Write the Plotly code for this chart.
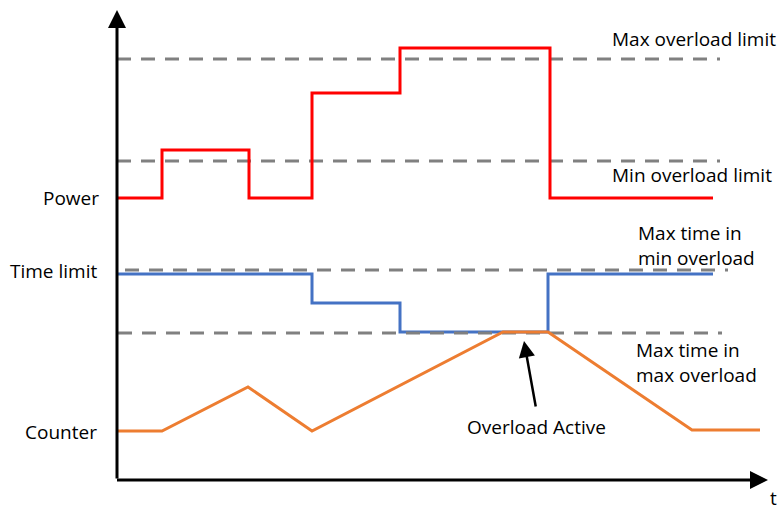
import plotly.graph_objects as go

# ---- data (time units along t, signal level units upward) ----
power_t = [0, 45, 132, 195, 283, 433, 596]
power_v = [282, 330, 282, 387, 432, 282, 282]

timelimit_t = [0, 195, 283, 431, 596]
timelimit_v = [206, 177, 148, 206, 206]

counter_t = [0, 45, 131, 195, 386, 431, 575, 643]
counter_v = [49, 49, 93, 49, 148, 148, 50, 50]

max_overload_t = [0, 603]
max_overload_v = [421, 421]
min_overload_t = [0, 603]
min_overload_v = [319, 319]
max_time_min_t = [8, 611]
max_time_min_v = [210, 210]
max_time_max_t = [1, 605]
max_time_max_v = [147, 147]

FONT = "Open Sans"
FS = 19
GRAY = "#808080"

fig = go.Figure()

dash = "14px,10px"
for tt, vv in [(max_overload_t, max_overload_v), (min_overload_t, min_overload_v),
               (max_time_min_t, max_time_min_v)]:
    fig.add_trace(go.Scatter(x=tt, y=vv, mode="lines",
                             line=dict(color=GRAY, width=3, dash=dash),
                             hoverinfo="skip"))

fig.add_trace(go.Scatter(x=power_t, y=power_v, mode="lines", line_shape="hv",
                         line=dict(color="#FF0000", width=3)))
fig.add_trace(go.Scatter(x=timelimit_t, y=timelimit_v, mode="lines", line_shape="hv",
                         line=dict(color="#4472C4", width=3)))
fig.add_trace(go.Scatter(x=max_time_max_t, y=max_time_max_v, mode="lines",
                         line=dict(color=GRAY, width=3, dash=dash), hoverinfo="skip"))
fig.add_trace(go.Scatter(x=counter_t, y=counter_v, mode="lines",
                         line=dict(color="#ED7D31", width=3)))

ann = []
# axes arrows
ann.append(dict(x=0, y=470, ax=0, ay=0, xref="x", yref="y", axref="x", ayref="y",
                showarrow=True, arrowhead=2, arrowsize=1.2, arrowwidth=3,
                arrowcolor="black", text="", standoff=0, startstandoff=0))
ann.append(dict(x=651, y=0, ax=-1.5, ay=0, xref="x", yref="y", axref="x", ayref="y",
                showarrow=True, arrowhead=2, arrowsize=1.2, arrowwidth=3,
                arrowcolor="black", text="", standoff=0, startstandoff=0))
# overload active arrow
ann.append(dict(x=407, y=139, ax=419, ay=72, xref="x", yref="y", axref="x", ayref="y",
                showarrow=True, arrowhead=2, arrowsize=1.3, arrowwidth=2.5,
                arrowcolor="black", text="", standoff=0))


def txt(x, y, s, anchor):
    ann.append(dict(x=x, y=y, xref="x", yref="y", text=s, showarrow=False,
                    xanchor=anchor, yanchor="middle", align=anchor,
                    font=dict(family=FONT, size=FS, color="black")))


txt(-16, 282, "Power", "right")
txt(-18, 209, "Time limit", "right")
txt(-18, 48, "Counter", "right")
txt(493, 441, "Max overload limit", "left")
txt(493, 305, "Min overload limit", "left")
txt(519, 235, "Max time in<br>min overload", "left")
txt(517, 118, "Max time in<br>max overload", "left")
txt(419, 53, "Overload Active", "center")
txt(656, -18, "t", "center")

fig.update_layout(
    width=779, height=508, margin=dict(l=0, r=0, t=0, b=0),
    paper_bgcolor="white", plot_bgcolor="white", showlegend=False,
    xaxis=dict(range=[-117, 662], visible=False, fixedrange=True),
    yaxis=dict(range=[-28, 480], visible=False, fixedrange=True),
    annotations=ann,
)

fig.write_html("out.html", config={"displayModeBar": False},
               post_script="document.body.style.margin='0';"
                           "document.body.style.overflow='hidden';")
